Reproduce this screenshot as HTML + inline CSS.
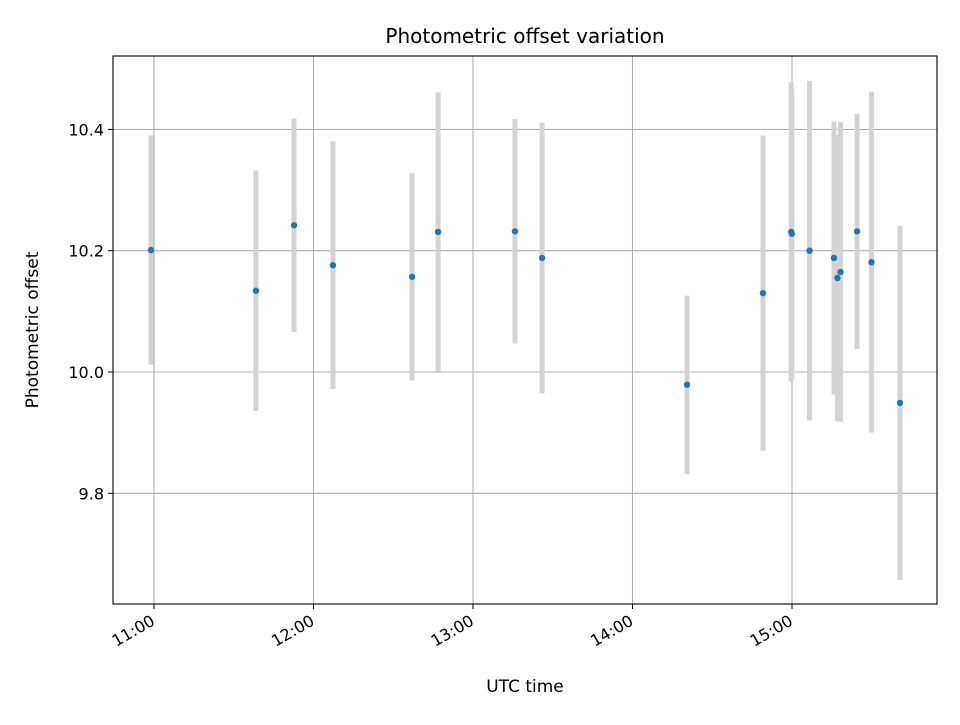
<!DOCTYPE html>
<html><head><meta charset="utf-8"><style>
body{margin:0;background:#fff;}
svg{font-family:"DejaVu Sans","Liberation Sans",sans-serif;}
</style></head><body>
<svg id="chart" width="960" height="720">
<rect width="960" height="720" fill="#fff"/>
<g id="grid"></g><g id="bars"></g><g id="pts"></g><g id="axes"></g>
<rect x="113" y="56" width="824" height="548" fill="none" stroke="#000" stroke-width="1.1"/>
<text x="525" y="43" text-anchor="middle" font-size="20">Photometric offset variation</text>
<text x="525" y="692" text-anchor="middle" font-size="17">UTC time</text>
<text transform="translate(38,330) rotate(-90)" text-anchor="middle" font-size="17">Photometric offset</text>
</svg>
<script>
const times=[10.981,11.639,11.878,12.122,12.618,12.781,13.263,13.433,14.342,14.818,14.995,14.999,15.110,15.263,15.285,15.304,15.408,15.498,15.677];
const values=[10.201,10.134,10.242,10.176,10.157,10.231,10.232,10.188,9.979,10.130,10.231,10.228,10.200,10.188,10.155,10.165,10.232,10.181,9.949];
const errors=[0.189,0.198,0.176,0.204,0.171,0.230,0.185,0.223,0.147,0.260,0.247,0.238,0.280,0.225,0.236,0.247,0.194,0.281,0.292];
const xTicks=[11,12,13,14,15];
const xTickLabels=["11:00","12:00","13:00","14:00","15:00"];
const yTicks=[9.8,10.0,10.2,10.4];
const yTickLabels=["9.8","10.0","10.2","10.4"];
const NS="http://www.w3.org/2000/svg";
const X=t=>154+(t-11)*159.5;
const Y=v=>372-(v-10)*606.5;
function mk(tag,attrs,parent){const e=document.createElementNS(NS,tag);for(const k in attrs)e.setAttribute(k,attrs[k]);document.getElementById(parent).appendChild(e);return e;}
xTicks.forEach((t,i)=>{
 const g=mk('line',{x1:X(t),x2:X(t),y1:56,y2:604,stroke:'#b0b0b0','stroke-width':1.1},'grid');
 
 
 const tk=mk('line',{x1:X(t),x2:X(t),y1:604,y2:609,stroke:'#000'},'axes');
 
 
 const ax=X(t)+2, ay=624;
 const tx=mk('text',{x:ax,y:ay,'text-anchor':'end','font-size':16,transform:`rotate(-30 ${ax} ${ay})`},'axes');
 tx.textContent=xTickLabels[i];
 
 
});
yTicks.forEach((v,i)=>{
 const g=mk('line',{x1:113,x2:937,y1:Y(v),y2:Y(v),stroke:'#b0b0b0','stroke-width':1.1},'grid');
 
 
 const tk=mk('line',{x1:108,x2:113,y1:Y(v),y2:Y(v),stroke:'#000'},'axes');
 
 
 const tx=mk('text',{x:104,y:Y(v)+6,'text-anchor':'end','font-size':16},'axes');
 tx.textContent=yTickLabels[i];
 
 
});
times.forEach((t,i)=>{
 const b=mk('line',{x1:X(t),x2:X(t),y1:Y(values[i]+errors[i]),y2:Y(values[i]-errors[i]),stroke:'#d3d3d3','stroke-width':5},'bars');
 
 
});
times.forEach((t,i)=>{
 const p=mk('circle',{cx:X(t),cy:Y(values[i]),r:3.2,fill:'#1f77b4'},'pts');
 
 
});
</script>
</body></html>
